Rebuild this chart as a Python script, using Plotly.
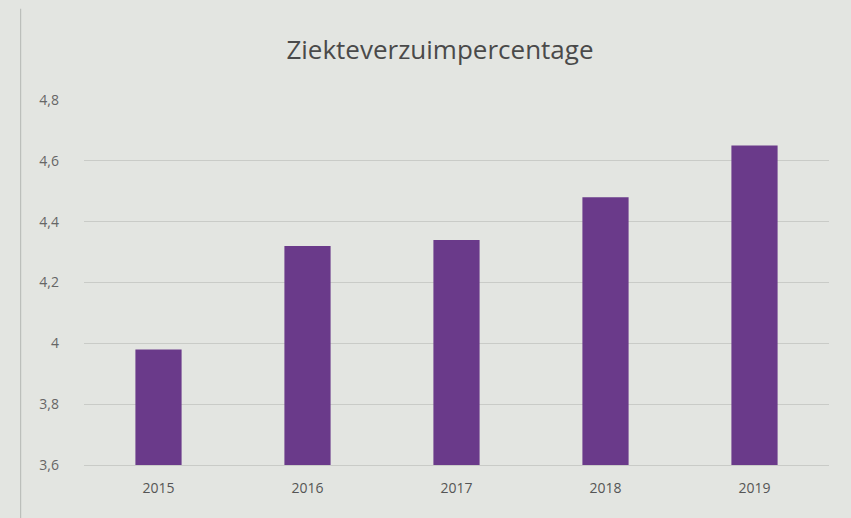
import plotly.graph_objects as go

years = ["2015", "2016", "2017", "2018", "2019"]
values = [3.98, 4.32, 4.34, 4.48, 4.65]
y_ticks = [3.6, 3.8, 4.0, 4.2, 4.4, 4.6, 4.8]

bg = "#e3e5e1"
fig = go.Figure(go.Bar(x=years, y=values, marker_color="#6a3a8a",
                       marker_line_width=0, width=0.31))
fig.update_layout(
    width=851, height=518,
    paper_bgcolor=bg, plot_bgcolor=bg,
    separators=", ",
    margin=dict(l=84, r=22, t=100, b=53),
    title=dict(text="Ziekteverzuimpercentage", x=0.517, xanchor="center",
               y=0.903, yanchor="middle",
               font=dict(family="Open Sans", size=26, color="#4a4a4a")),
    font=dict(family="Open Sans", color="#555555"),
    showlegend=False,
)
fig.update_yaxes(range=[3.6, 4.8], tickvals=y_ticks, showgrid=True,
                 gridcolor="#c9cbc7", gridwidth=1, zeroline=False,
                 ticks="", ticklabelstandoff=24,
                 tickfont=dict(size=14, color="#666666"))
fig.update_xaxes(showline=True, linecolor="#c9cbc7", linewidth=1,
                 ticks="", ticklabelstandoff=10,
                 tickfont=dict(size=14, color="#555555"))
fig.add_shape(type="line", xref="paper", yref="paper", x0=-0.085, x1=-0.085,
              y0=-0.2, y1=1.25, line=dict(color="#b5b7b3", width=1))
fig.write_html("out.html", config={"displayModeBar": False},
               post_script="document.body.style.margin='0';document.body.style.background='%s';" % bg)
